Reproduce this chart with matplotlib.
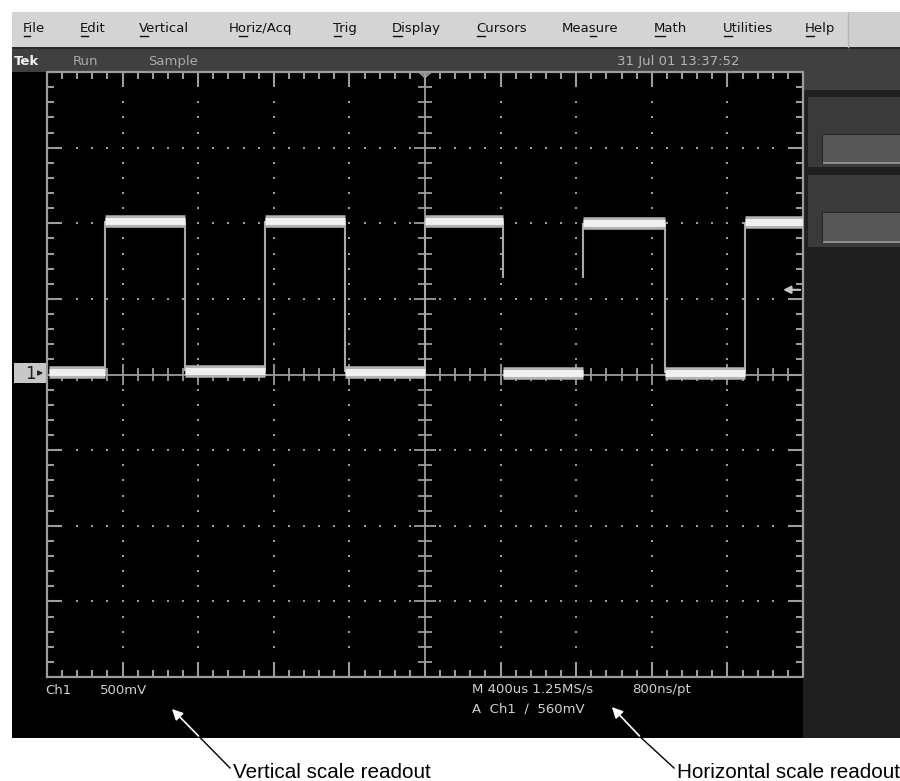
import matplotlib.pyplot as plt
from matplotlib.patches import Rectangle, Polygon
import numpy as np

# waveform in graticule divisions (10 x 8 div, centre = 0,0), 500mV/div, 400us/div
edge_t = [-4.23, -3.17, -2.11, -1.06, 0.0, 1.03, 2.09, 3.17, 4.23]
seg_level = [0.03, 2.03, 0.04, 2.03, 0.03, 2.03, 0.02, 2.0, 0.02, 2.02]
edge_bottom = [0.03, 0.04, 0.04, 0.03, 0.03, 1.28, 1.28, 0.02, 0.02]
trig_level = 1.12

menu_items = ['File', 'Edit', 'Vertical', 'Horiz/Acq', 'Trig', 'Display',
              'Cursors', 'Measure', 'Math', 'Utilities', 'Help']
menu_x = [23, 80, 139, 229, 333, 392, 476, 562, 654, 723, 805]
menu_ul = [0, 0, 0, 1, 0, 0, 0, 3, 0, 0, 0]

status_left = [('Tek', 14, '#f2f2f2'), ('Run', 73, '#a8a8a8'), ('Sample', 148, '#a8a8a8')]
status_date = '31 Jul 01 13:37:52'

readouts = [('Ch1', 45, 690), ('500mV', 100, 690),
            ('M 400us 1.25MS/s', 472, 689), ('800ns/pt', 632, 689),
            ('A  Ch1  \u2215  560mV', 472, 709)]

callouts = ['Vertical scale readout', 'Horizontal scale readout']

fig = plt.figure(figsize=(9, 7.81), dpi=100)
bg = fig.add_axes([0, 0, 1, 1])
bg.set_xlim(0, 900)
bg.set_ylim(781, 0)
bg.axis('off')

def box(x, y, w, h, c):
    bg.add_patch(Rectangle((x, y), w, h, facecolor=c, edgecolor='none'))

# window chrome
box(12, 12, 888, 36, '#d4d4d4')
box(848, 12, 52, 36, '#cfcfcf')
bg.plot([848, 848], [13, 47], color='#b4b4b4', lw=1)
box(12, 47, 888, 2, '#2a2a2a')
box(12, 49, 888, 23, '#404040')
box(803, 72, 97, 18, '#404040')
box(12, 72, 791, 666, 'black')
box(803, 90, 97, 648, '#1f1f1f')
for y0, h0, by, bh in [(97, 70, 135, 28), (175, 72, 213, 29)]:
    box(808, y0, 92, h0, '#3a3a3a')
    box(822, by - 1, 78, bh + 2, '#262626')
    box(823, by, 77, bh, '#565656')
    box(823, by + bh - 1, 77, 2, '#8c8c8c')

# menu
menu_texts = []
for name, x in zip(menu_items, menu_x):
    menu_texts.append(bg.text(x, 32, name, fontsize=9.5, color='#111111',
                              ha='left', va='baseline', family='DejaVu Sans'))

for name, x, c in status_left:
    bg.text(x, 65, name, fontsize=9.5, color=c, ha='left', va='baseline',
            weight='bold' if name == 'Tek' else 'normal')
bg.text(617, 65, status_date, fontsize=9.5, color='#b4b4b4', ha='left', va='baseline')

for s, x, y in readouts:
    bg.text(x, y, s, fontsize=9.5, color='#d0d0d0', ha='left', va='center')

# channel 1 ground marker
box(14, 363, 33, 20, '#c8c8c8')
bg.text(25, 374, '1', fontsize=12, color='#202020', ha='left', va='center')
bg.annotate('', xy=(46, 373), xytext=(35, 373),
            arrowprops=dict(arrowstyle='-|>', color='#202020', lw=1, mutation_scale=7))

# callouts
callout_texts = []
for label, tx, tip, cut in [(callouts[0], 233, (170, 707), 200.5),
                            (callouts[1], 677, (610, 705), 641.4)]:
    tail = (tx - 3, 768)
    bg.plot([tail[0], cut], [tail[1], 738], color='black', lw=1)
    bg.annotate('', xy=tip, xytext=(cut, 738),
                arrowprops=dict(arrowstyle='-|>', color='white', lw=1.2, mutation_scale=16))
    callout_texts.append(bg.text(tx, 778, label, fontsize=16.5, color='black',
                                 ha='left', va='baseline',
                                 family=['Liberation Sans Narrow', 'Liberation Sans', 'DejaVu Sans']))

# graticule
ax = fig.add_axes([47 / 900, (781 - 677) / 781, 756 / 900, 605 / 781])
ax.set_xlim(-5, 5)
ax.set_ylim(-4, 4)
ax.set_axis_off()
gc = '#9c9c9c'
ax.plot([-5, 5, 5, -5, -5], [-4, -4, 4, 4, -4], color=gc, lw=1.6, clip_on=False)
ax.axhline(0, color=gc, lw=1.3)
ax.axvline(0, color=gc, lw=1.3)

xs = np.round(np.arange(-5, 5.001, 0.2), 2)
ys = np.round(np.arange(-4, 4.001, 0.2), 2)
for x in xs[1:-1]:
    major = abs(x - round(x)) < 1e-6
    L = 0.2 if major else 0.09
    ax.vlines(x, 4 - L, 4, color=gc, lw=1.5)
    ax.vlines(x, -4, -4 + L, color=gc, lw=1.5)
    c = 0.14 if major else 0.09
    ax.vlines(x, -c, c, color=gc, lw=1.3)
for y in ys[1:-1]:
    major = abs(y - round(y)) < 1e-6
    L = 0.2 if major else 0.09
    ax.hlines(y, -5, -5 + L, color=gc, lw=1.5)
    ax.hlines(y, 5 - L, 5, color=gc, lw=1.5)
    c = 0.14 if major else 0.09
    ax.hlines(y, -c, c, color=gc, lw=1.3)

# dotted major grid lines
for x in range(-4, 5):
    if x == 0:
        continue
    pts = [y for y in ys[2:-2] if abs(y) > 0.15]
    ax.plot([x] * len(pts), pts, 's', color=gc, ms=1.6, mew=0)
for y in range(-3, 4):
    if y == 0:
        continue
    pts = [x for x in xs[2:-2] if abs(x) > 0.15]
    ax.plot(pts, [y] * len(pts), 's', color=gc, ms=1.6, mew=0)

# trigger markers
ax.add_patch(Polygon([(-0.1, 4), (0.1, 4), (0, 3.91)], closed=True,
                     facecolor='#8a8a8a', edgecolor='none', clip_on=False))
ax.annotate('', xy=(4.7, trig_level), xytext=(5.0, trig_level),
            arrowprops=dict(arrowstyle='-|>', color='#c8c8c8', lw=1.5, mutation_scale=11))

# waveform
bounds = [-4.98] + edge_t + [5.0]
for i, lev in enumerate(seg_level):
    ax.hlines(lev, bounds[i], bounds[i + 1], color='#b4b4b4', lw=9, zorder=5)
    ax.hlines(lev, bounds[i], bounds[i + 1], color='#f0f0f0', lw=5, zorder=6)
for i, t in enumerate(edge_t):
    top = max(seg_level[i], seg_level[i + 1])
    ax.vlines(t, edge_bottom[i], top, color='#a8a8a8', lw=1.5, zorder=4)

# underline mnemonic letters in the menu; fit callout text widths
fig.canvas.draw()
r = fig.canvas.get_renderer()

def width(s, size, family):
    if not s:
        return 0.0
    tmp = bg.text(0, 0, s, fontsize=size, family=family)
    v = tmp.get_window_extent(r).width
    tmp.remove()
    return v

for t, name, k in zip(menu_texts, menu_items, menu_ul):
    bb = t.get_window_extent(r)
    x0 = bb.x0 + width(name[:k], 9.5, 'DejaVu Sans')
    x1 = bb.x0 + width(name[:k + 1], 9.5, 'DejaVu Sans')
    bg.plot([x0 + 0.5, x1 - 0.5], [36, 36], color='#111111', lw=1)

# keep the right callout inside the frame (reference spans ~220 px)
ct = callout_texts[1]
w = ct.get_window_extent(r).width
if w > 222:
    s = 16.5 * 222 / w
    for t in callout_texts:
        t.set_fontsize(s)

fig.savefig('out.png', dpi=100)
